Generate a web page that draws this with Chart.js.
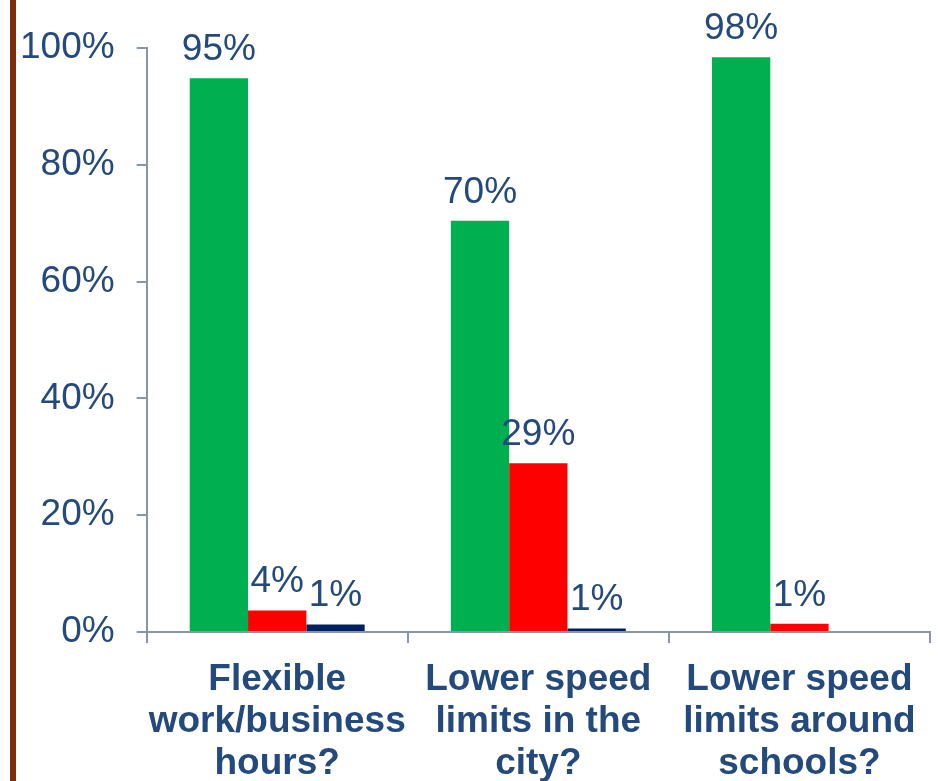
<!DOCTYPE html>
<html lang="en">
<head>
    <meta charset="UTF-8">
    <title>Survey support chart</title>
    <script src="https://cdn.jsdelivr.net/npm/chart.js"></script>
    <style>
        body {
            margin: 0;
            background-color: #ffffff;
        }
    </style>
</head>
<body>
    <canvas id="surveyChart" width="938" height="781"></canvas>

    <script>
        // categories and values (percent)
        const categories = [
            ['Flexible', 'work/business', 'hours?'],
            ['Lower speed', 'limits in the', 'city?'],
            ['Lower speed', 'limits around', 'schools?']
        ];
        const greenValues = [94.8, 70.4, 98.4];
        const redValues = [3.7, 28.9, 1.4];
        const navyValues = [1.3, 0.6, null];
        const yTicks = [0, 20, 40, 60, 80, 100];

        const textColor = '#244a7d';
        const axisColor = '#8896ab';
        const fontFamily = '"Liberation Sans", Arial, sans-serif';

        const sideBar = {
            id: 'sideBar',
            beforeDraw(chart) {
                const ctx = chart.ctx;
                ctx.save();
                ctx.fillStyle = '#7f2d0d';
                ctx.fillRect(10, 0, 6, chart.height);
                ctx.restore();
            }
        };

        const valueLabels = {
            id: 'valueLabels',
            afterDatasetsDraw(chart) {
                const ctx = chart.ctx;
                ctx.save();
                ctx.font = '37px ' + fontFamily;
                ctx.fillStyle = textColor;
                ctx.textAlign = 'center';
                ctx.textBaseline = 'alphabetic';
                chart.data.datasets.forEach((ds, i) => {
                    const meta = chart.getDatasetMeta(i);
                    meta.data.forEach((bar, j) => {
                        const v = ds.data[j];
                        if (v === null) return;
                        ctx.fillText(Math.round(v) + '%', bar.x, bar.y - 18);
                    });
                });
                ctx.restore();
            }
        };

        const ctx = document.getElementById('surveyChart').getContext('2d');
        new Chart(ctx, {
            type: 'bar',
            data: {
                labels: categories,
                datasets: [
                    { data: greenValues, backgroundColor: '#00b050' },
                    { data: redValues, backgroundColor: '#ff0000' },
                    { data: navyValues, backgroundColor: '#002060' }
                ]
            },
            options: {
                responsive: false,
                animation: false,
                layout: { padding: { left: -2, top: 48, right: 8, bottom: 0 } },
                datasets: {
                    bar: { barPercentage: 1, categoryPercentage: 0.67 }
                },
                plugins: {
                    legend: { display: false },
                    tooltip: { enabled: false }
                },
                scales: {
                    x: {
                        afterFit(axis) {
                            axis.height = 149;
                        },
                        grid: {
                            offset: true,
                            drawOnChartArea: false,
                            color: axisColor,
                            lineWidth: 2,
                            tickLength: 11
                        },
                        border: { color: axisColor, width: 2 },
                        ticks: {
                            color: textColor,
                            maxRotation: 0,
                            autoSkip: false,
                            padding: 16,
                            font: { family: fontFamily, size: 37, weight: 'bold', lineHeight: 1.135 }
                        }
                    },
                    y: {
                        min: 0,
                        max: 100,
                        afterBuildTicks(axis) {
                            axis.ticks = yTicks.map(v => ({ value: v }));
                        },
                        grid: {
                            drawOnChartArea: false,
                            color: axisColor,
                            lineWidth: 2,
                            tickLength: 10
                        },
                        border: { color: axisColor, width: 2 },
                        ticks: {
                            color: textColor,
                            padding: 22,
                            callback: v => v + '%',
                            font: { family: fontFamily, size: 37 }
                        }
                    }
                }
            },
            plugins: [sideBar, valueLabels]
        });
    </script>
</body>
</html>
